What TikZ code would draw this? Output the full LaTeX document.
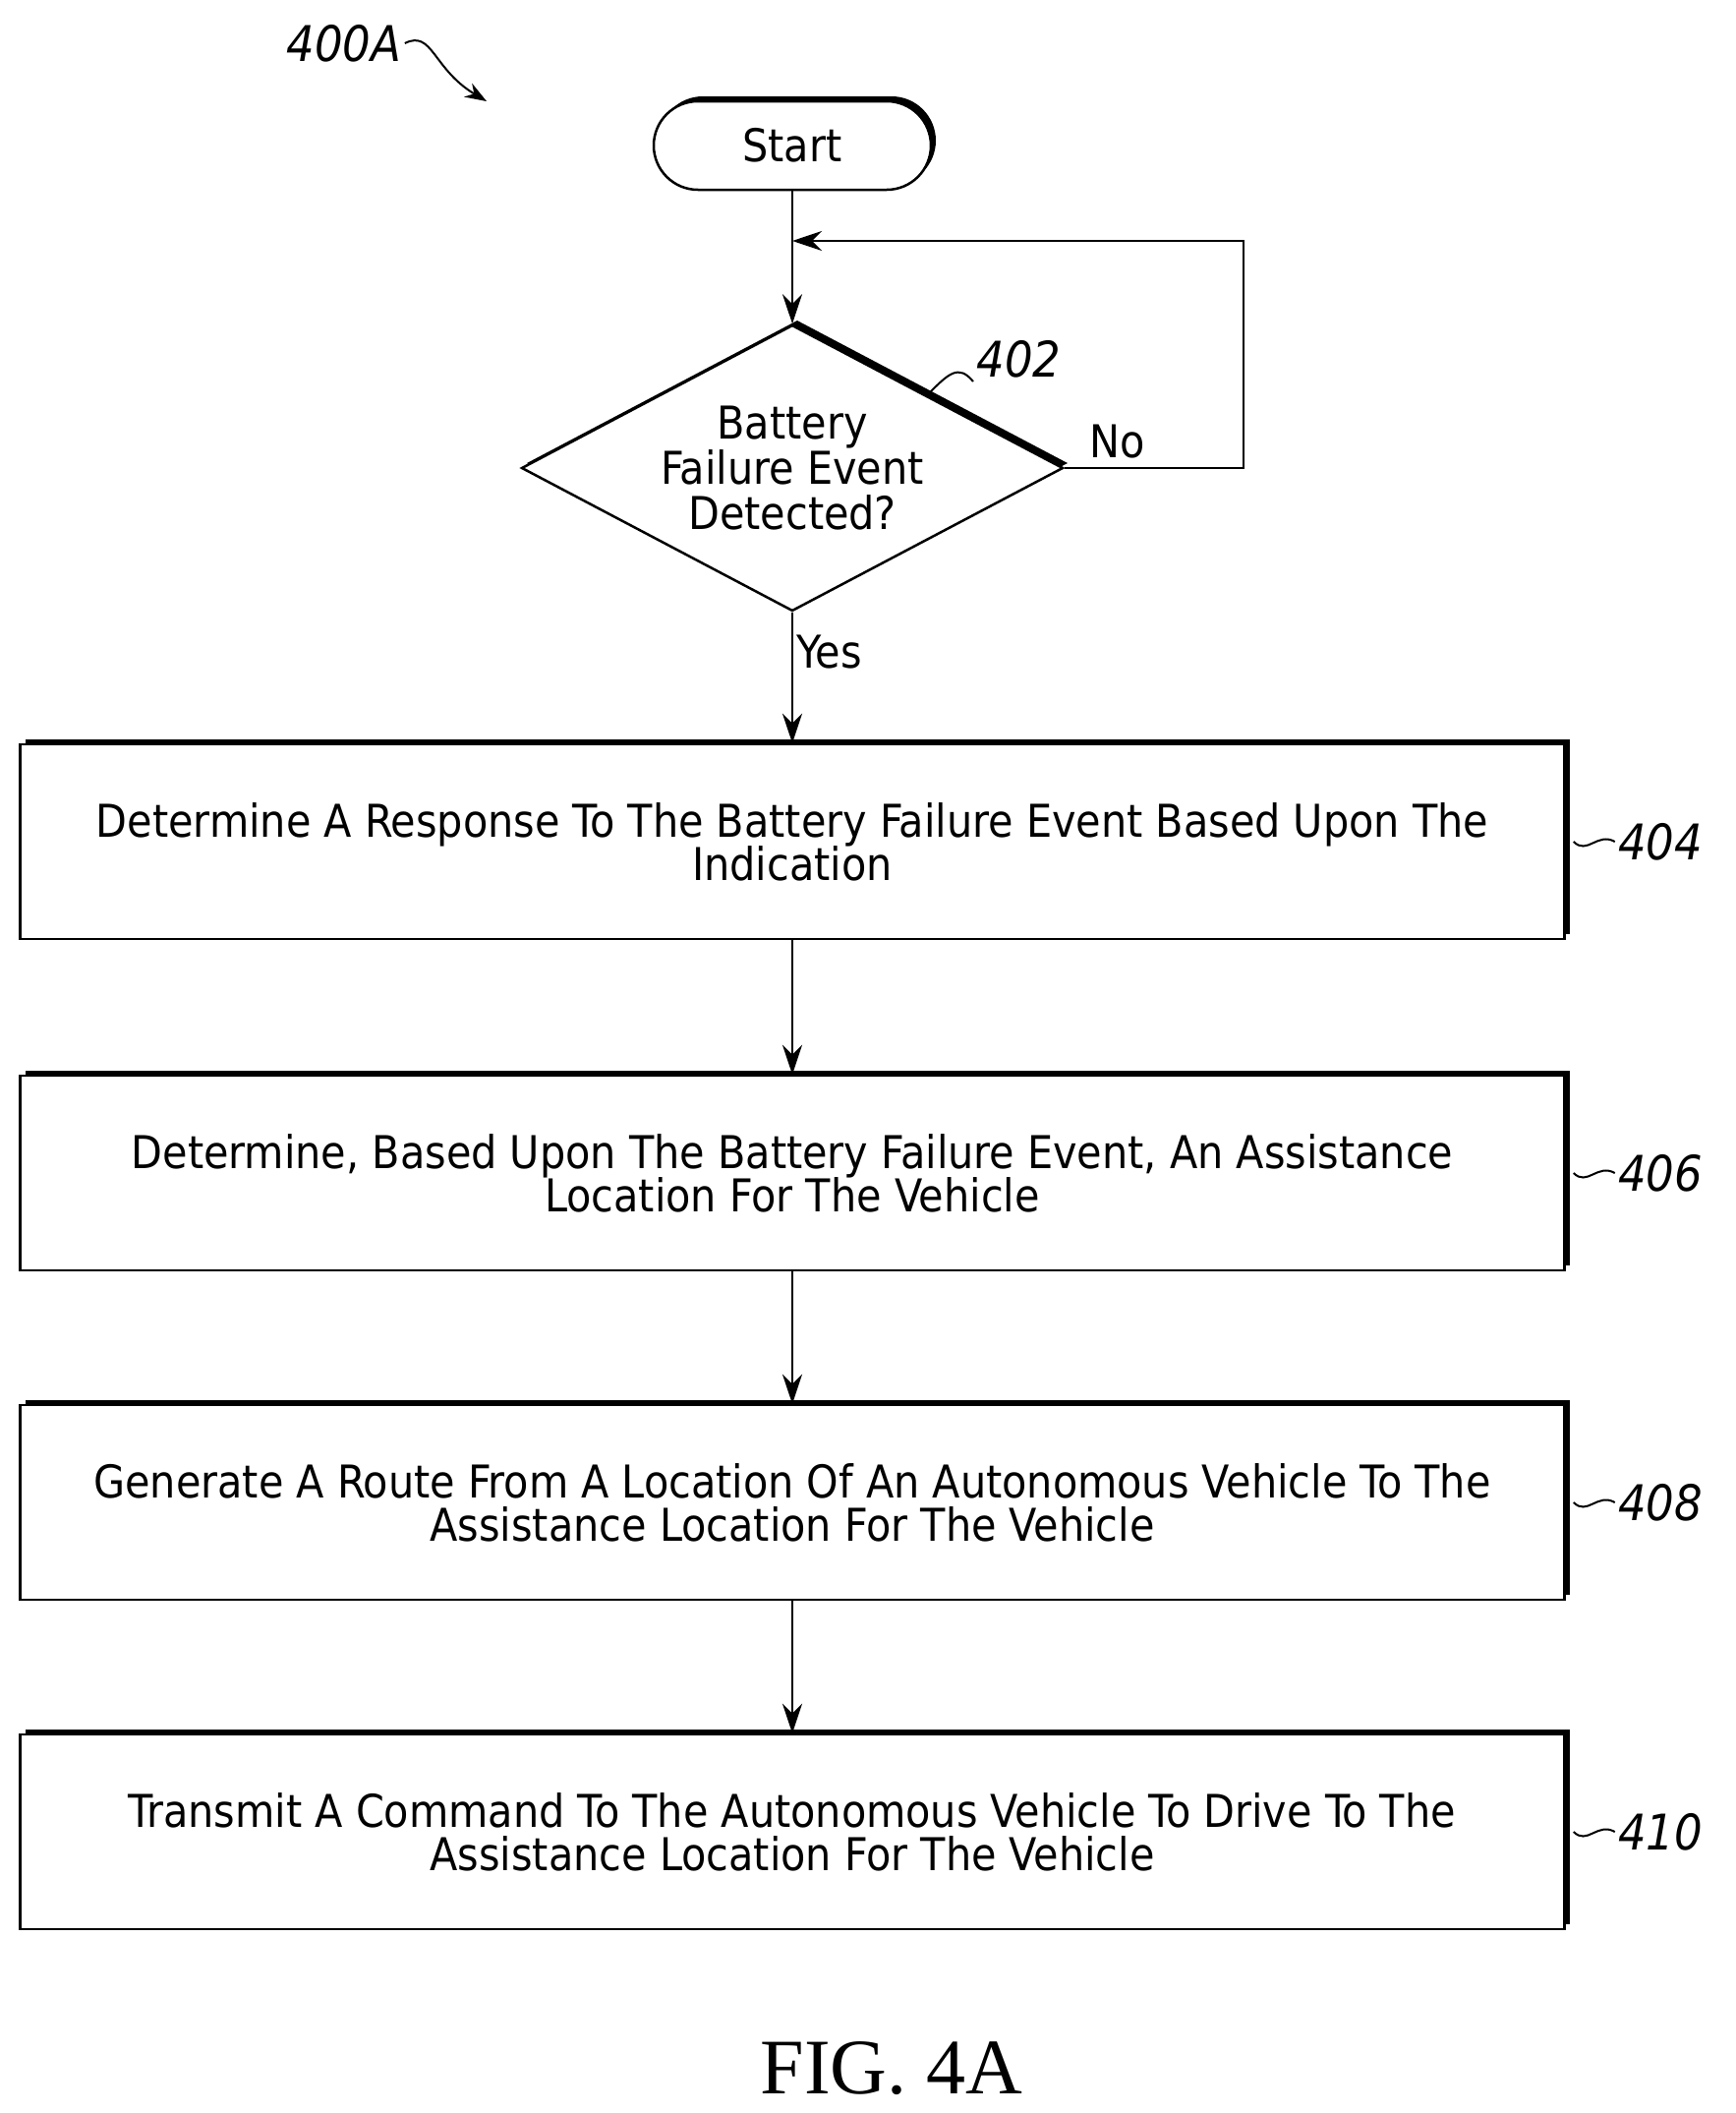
\documentclass[tikz,border=0pt]{standalone}
\usepackage{fontspec}
\setmainfont{DejaVu Sans Condensed}
\newfontfamily\figfont{Liberation Serif}
\usetikzlibrary{shapes.geometric,arrows.meta,shadows}
\begin{document}
\begin{tikzpicture}[x=1pt,y=-1pt,
  txt/.style={font=\fontsize{46}{52}\selectfont},
  box/.style={draw,line width=2.5pt,fill=white,minimum width=1571,minimum height=198,align=center,txt,
    drop shadow={shadow xshift=5,shadow yshift=-5,opacity=1,fill=black}},
  arr/.style={line width=2.5pt,-{Stealth[length=30,width=20]}},
  ref/.style={font=\fontsize{50}{56}\selectfont\itshape}]
\useasboundingbox (0,0) rectangle (1765,2149);
\node[draw,line width=2.5pt,rounded corners=45,minimum width=282,minimum height=90,txt,fill=white,
  drop shadow={shadow xshift=5,shadow yshift=-5,opacity=1,fill=black}] (start) at (806,148) {Start};
\node[diamond,draw,line width=2.5pt,minimum width=551,minimum height=291,aspect=1.9,align=center,txt,inner sep=0,
  drop shadow={shadow xshift=5,shadow yshift=-5,opacity=1,fill=black},fill=white] (d) at (806,476) {Battery\\[-6pt]Failure Event\\[-6pt]Detected?};
\node[box] (b1) at (806,856) {Determine A Response To The Battery Failure Event Based Upon The\\[-8pt]Indication};
\node[box] (b2) at (806,1193) {Determine, Based Upon The Battery Failure Event, An Assistance\\[-8pt]Location For The Vehicle};
\node[box] (b3) at (806,1528) {Generate A Route From A Location Of An Autonomous Vehicle To The\\[-8pt]Assistance Location For The Vehicle};
\node[box] (b4) at (806,1863) {Transmit A Command To The Autonomous Vehicle To Drive To The\\[-8pt]Assistance Location For The Vehicle};
\coordinate (lp) at (806,245);
\draw[arr] (start.south) -- (d.north);
\draw[arr] (d.east) -- (1265,476) -- (1265,245) -- (lp);
\node[txt,anchor=south west] (no) at (1105,470) {No};
\draw[arr] (d.south) -- (b1.north) node[pos=0.3,right,txt] (yes) {Yes};
\draw[arr] (b1.south) -- (b2.north);
\draw[arr] (b2.south) -- (b3.north);
\draw[arr] (b3.south) -- (b4.north);
\foreach \b/\n in {b1/404,b2/406,b3/408,b4/410}{
  \node[ref,anchor=west] (l\n) at ([xshift=50]\b.east) {\n};
  \draw[line width=2pt] ([xshift=8]\b.east) .. controls ([xshift=22,yshift=-14]\b.east) and ([xshift=32,yshift=10]\b.east) .. (l\n.west);
}
\node[ref,anchor=south west] (l402) at (990,388) {402};
\coordinate (dp) at (945,400);
\draw[line width=2pt] (dp) .. controls (965,380) and (975,370) .. (l402.south west);
\node[ref] (l400) at (350,44) {400A};
\coordinate (a400) at (495,103);
\draw[line width=2pt,-{Stealth[length=22,width=16]}] (l400.east) .. controls (440,30) and (440,70) .. (a400);
\node[font=\figfont\fontsize{80}{90}\selectfont] (fig) at (907,2104) {FIG. 4A};
\end{tikzpicture}
\end{document}
